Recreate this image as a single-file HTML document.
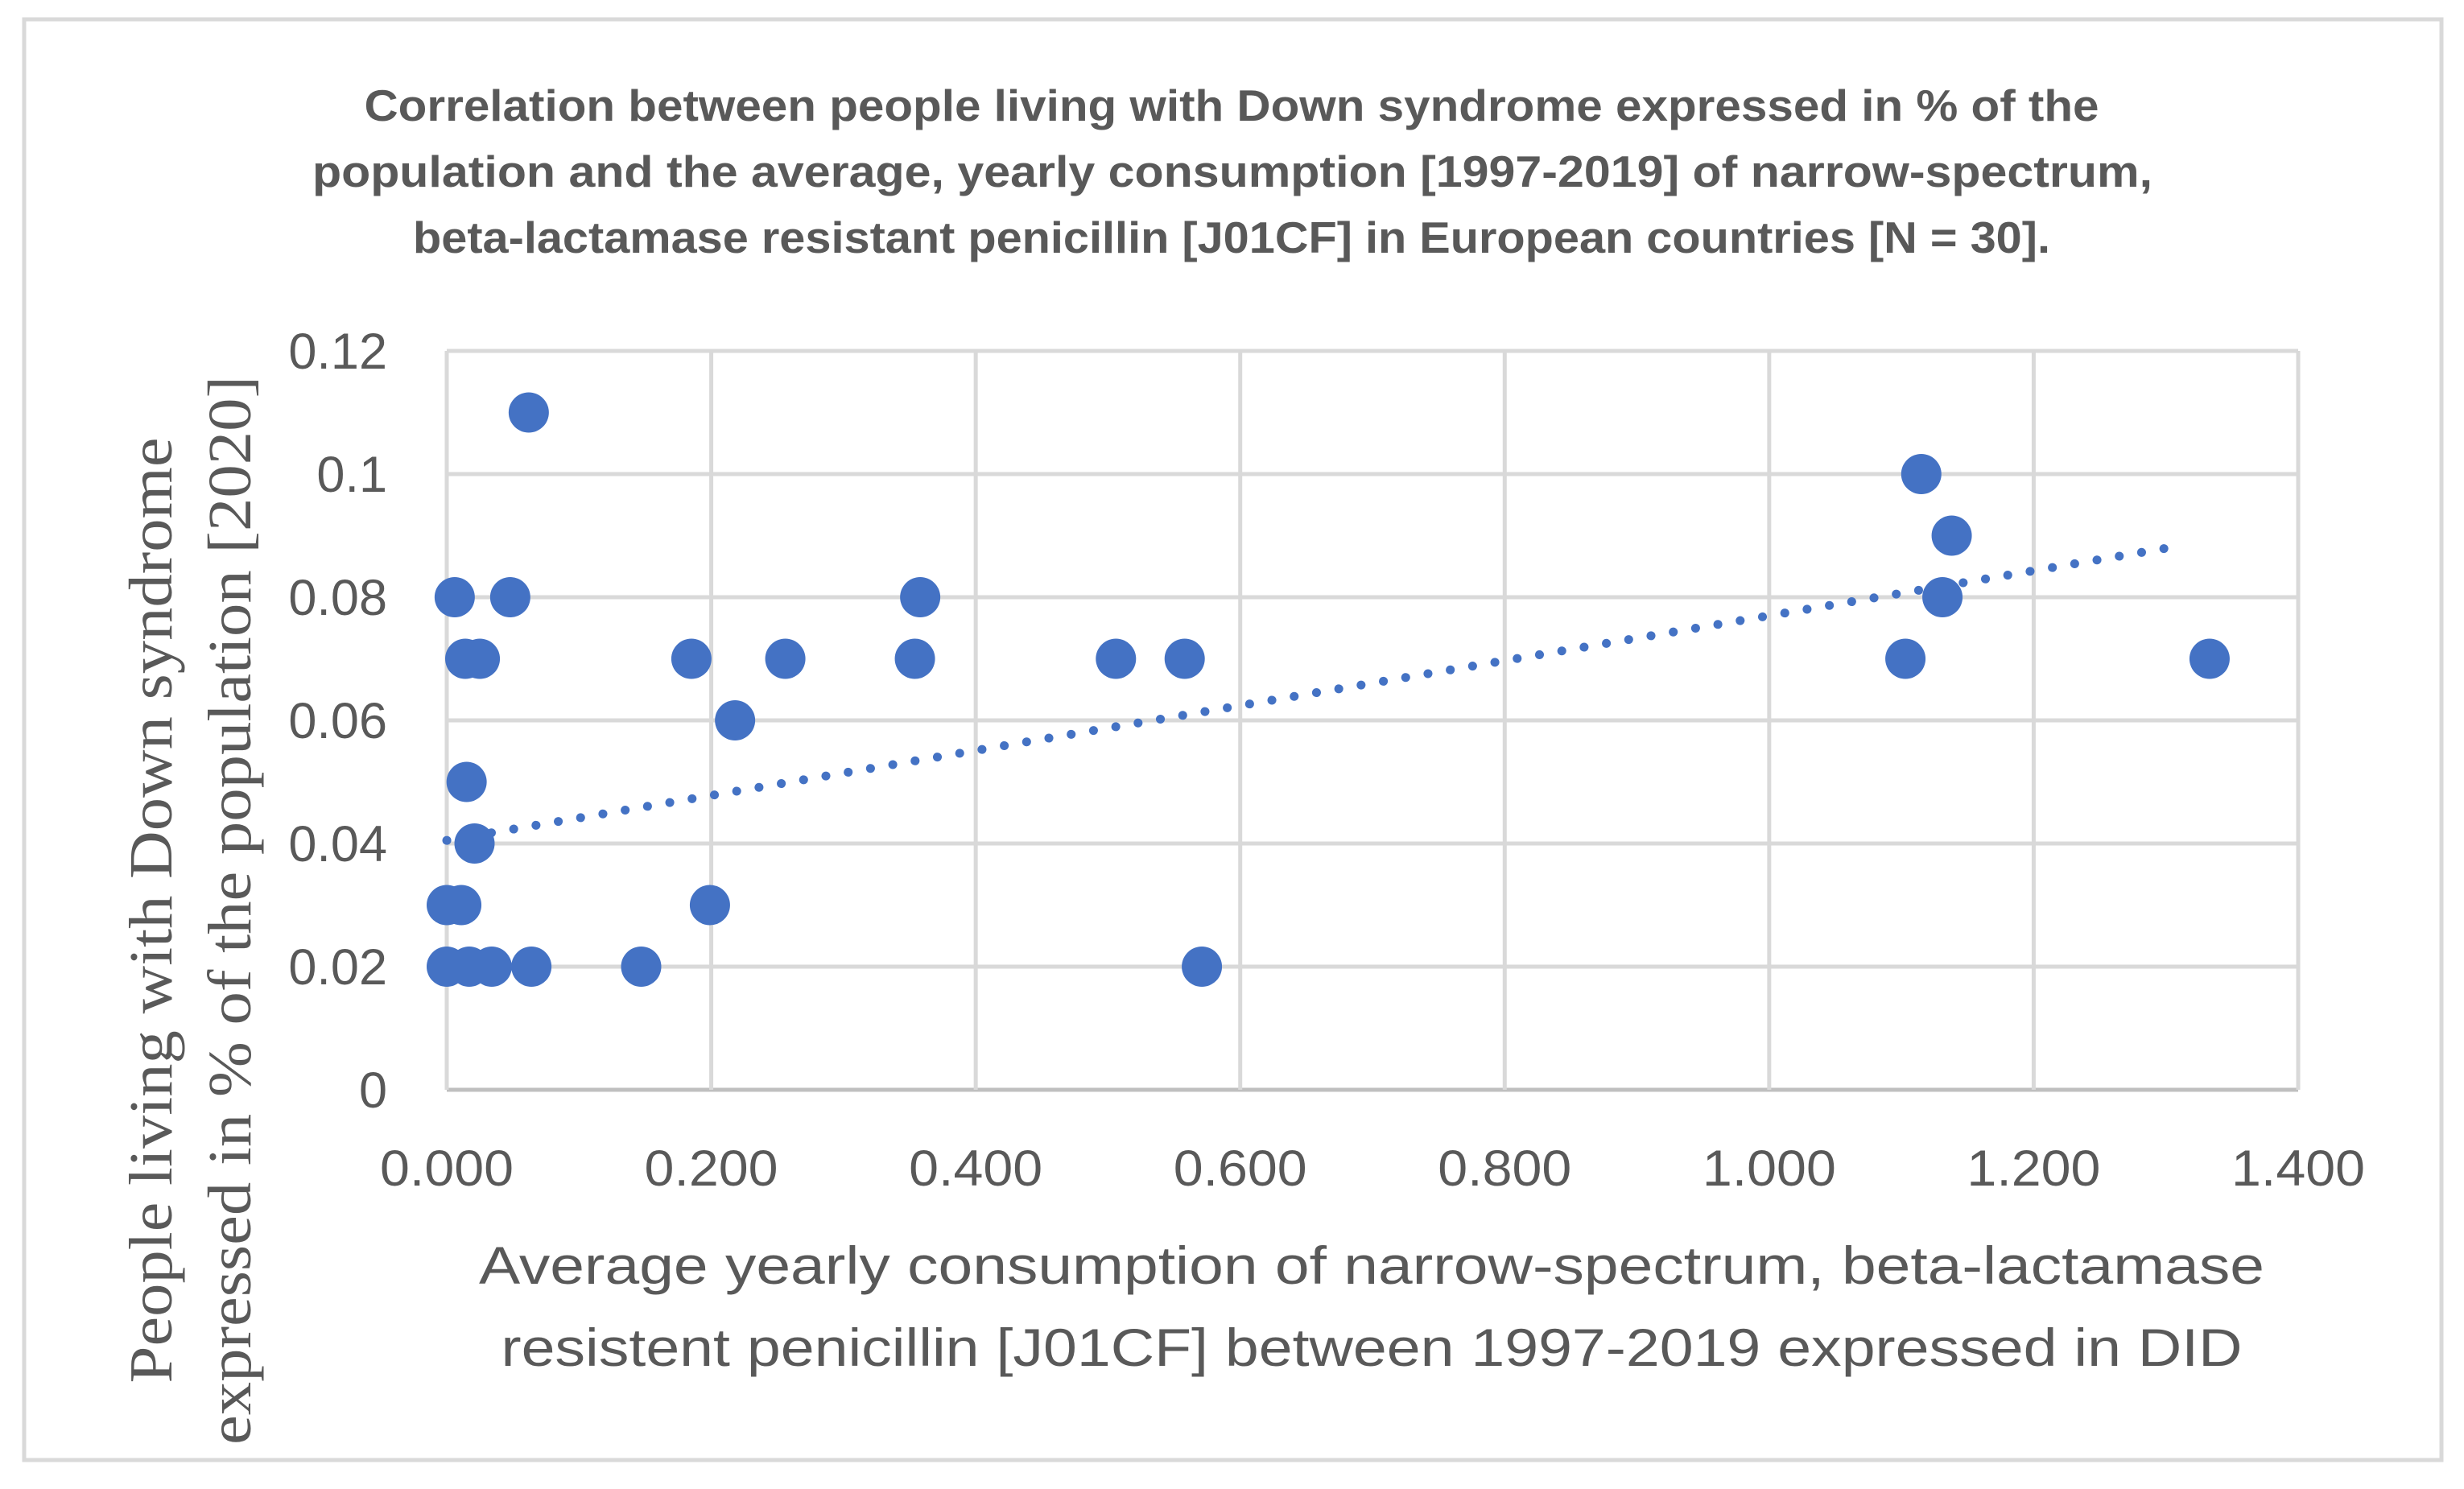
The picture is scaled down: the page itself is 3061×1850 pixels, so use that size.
<!DOCTYPE html>
<html><head><meta charset="utf-8"><style>
html,body{margin:0;padding:0;background:#fff;}
svg{display:block;}
</style></head><body>
<svg id="chart" width="3061" height="1850" viewBox="0 0 3061 1850" xmlns="http://www.w3.org/2000/svg">
<rect x="30" y="24" width="3003" height="1790" fill="#fff" stroke="#d9d9d9" stroke-width="5"/>
<g font-family="'Liberation Sans', sans-serif" font-weight="bold" font-size="55" fill="#595959" text-anchor="middle">
<text x="1530" y="150" textLength="2155" lengthAdjust="spacingAndGlyphs">Correlation between people living with Down syndrome expressed in % of the</text>
<text x="1531" y="232" textLength="2286" lengthAdjust="spacingAndGlyphs">population and the average, yearly consumption [1997-2019] of narrow-spectrum,</text>
<text x="1530" y="314" textLength="2034" lengthAdjust="spacingAndGlyphs">beta-lactamase resistant penicillin [J01CF] in European countries [N = 30].</text>
</g>
<g id="grid"></g>
<g id="ticks" font-family="'Liberation Sans', sans-serif" font-size="63" fill="#595959"></g>
<g id="trend"></g>
<g id="points"></g>
<g font-family="'Liberation Sans', sans-serif" font-size="66" fill="#595959" text-anchor="middle">
<text x="1704" y="1595" textLength="2218" lengthAdjust="spacingAndGlyphs">Average yearly consumption of narrow-spectrum, beta-lactamase</text>
<text x="1704" y="1697" textLength="2163" lengthAdjust="spacingAndGlyphs">resistent penicillin [J01CF] between 1997-2019 expressed in DID</text>
</g>
<g font-family="'Liberation Serif', serif" font-size="76" fill="#595959" text-anchor="middle" transform="translate(0,1131) rotate(-90)">
<text x="0" y="213" textLength="1175" lengthAdjust="spacingAndGlyphs">People living with Down syndrome</text>
<text x="0" y="311" textLength="1328" lengthAdjust="spacingAndGlyphs">expressed in % of the population [2020]</text>
</g>
</svg>
<script>
const xTicks = [0, 0.2, 0.4, 0.6, 0.8, 1.0, 1.2, 1.4];
const xTickLabels = ["0.000","0.200","0.400","0.600","0.800","1.000","1.200","1.400"];
const yTicks = [0, 0.02, 0.04, 0.06, 0.08, 0.1, 0.12];
const yTickLabels = ["0","0.02","0.04","0.06","0.08","0.1","0.12"];
const xValues = [0.062,0.006,0.048,0.358,0.014,0.025,0.185,0.256,0.354,0.218,0.015,0.021,0.000,0.011,0.199,0.000,0.017,0.034,0.064,0.147,0.506,0.558,0.571,1.115,1.138,1.131,1.103,1.333];
const yValues = [0.11,0.08,0.08,0.08,0.07,0.07,0.07,0.07,0.07,0.06,0.05,0.04,0.03,0.03,0.03,0.02,0.02,0.02,0.02,0.02,0.07,0.07,0.02,0.10,0.09,0.08,0.07,0.07];
const trendIntercept = [0.0405];
const trendSlope = [0.0365];
const trendRange = [0, 1.30];

const X0=555, X1=2855, Y0=1354, Y1=436;
const sx = v => X0 + (v-0)/(1.4-0)*(X1-X0);
const sy = v => Y0 - (v-0)/(0.12-0)*(Y0-Y1);
const NS="http://www.w3.org/2000/svg";
function mk(tag, attrs, parent){const e=document.createElementNS(NS,tag);for(const k in attrs)e.setAttribute(k,attrs[k]);parent.appendChild(e);return e;}
const grid=document.getElementById('grid'), ticks=document.getElementById('ticks');
yTicks.forEach((v,i)=>{
  const l=mk('line',{x1:X0,x2:X1,y1:sy(v),y2:sy(v),stroke:i===0?'#bfbfbf':'#d9d9d9','stroke-width':5},grid);
  
  
  const t=mk('text',{x:481,y:sy(v)+22,'text-anchor':'end'},ticks);
  t.textContent=yTickLabels[i];
  
  
});
xTicks.forEach((v,i)=>{
  const l=mk('line',{x1:sx(v),x2:sx(v),y1:Y1,y2:Y0,stroke:'#d9d9d9','stroke-width':5},grid);
  
  
  const t=mk('text',{x:sx(v),y:1473,'text-anchor':'middle',textLength:166,lengthAdjust:'spacingAndGlyphs'},ticks);
  t.textContent=xTickLabels[i];
  
  
});
const trend=document.getElementById('trend');
const tl=mk('line',{x1:sx(trendRange[0]),y1:sy(trendIntercept[0]+trendSlope[0]*trendRange[0]),x2:sx(trendRange[1]),y2:sy(trendIntercept[0]+trendSlope[0]*trendRange[1]),stroke:'#4472c4','stroke-width':11,'stroke-linecap':'round','stroke-dasharray':'0.1 28'},trend);


const pts=document.getElementById('points');
xValues.forEach((v,i)=>{
  const c=mk('ellipse',{cx:sx(v),cy:sy(yValues[i]),rx:25,ry:25,fill:'#4472c4'},pts);
  
  
});
</script>
</body></html>
